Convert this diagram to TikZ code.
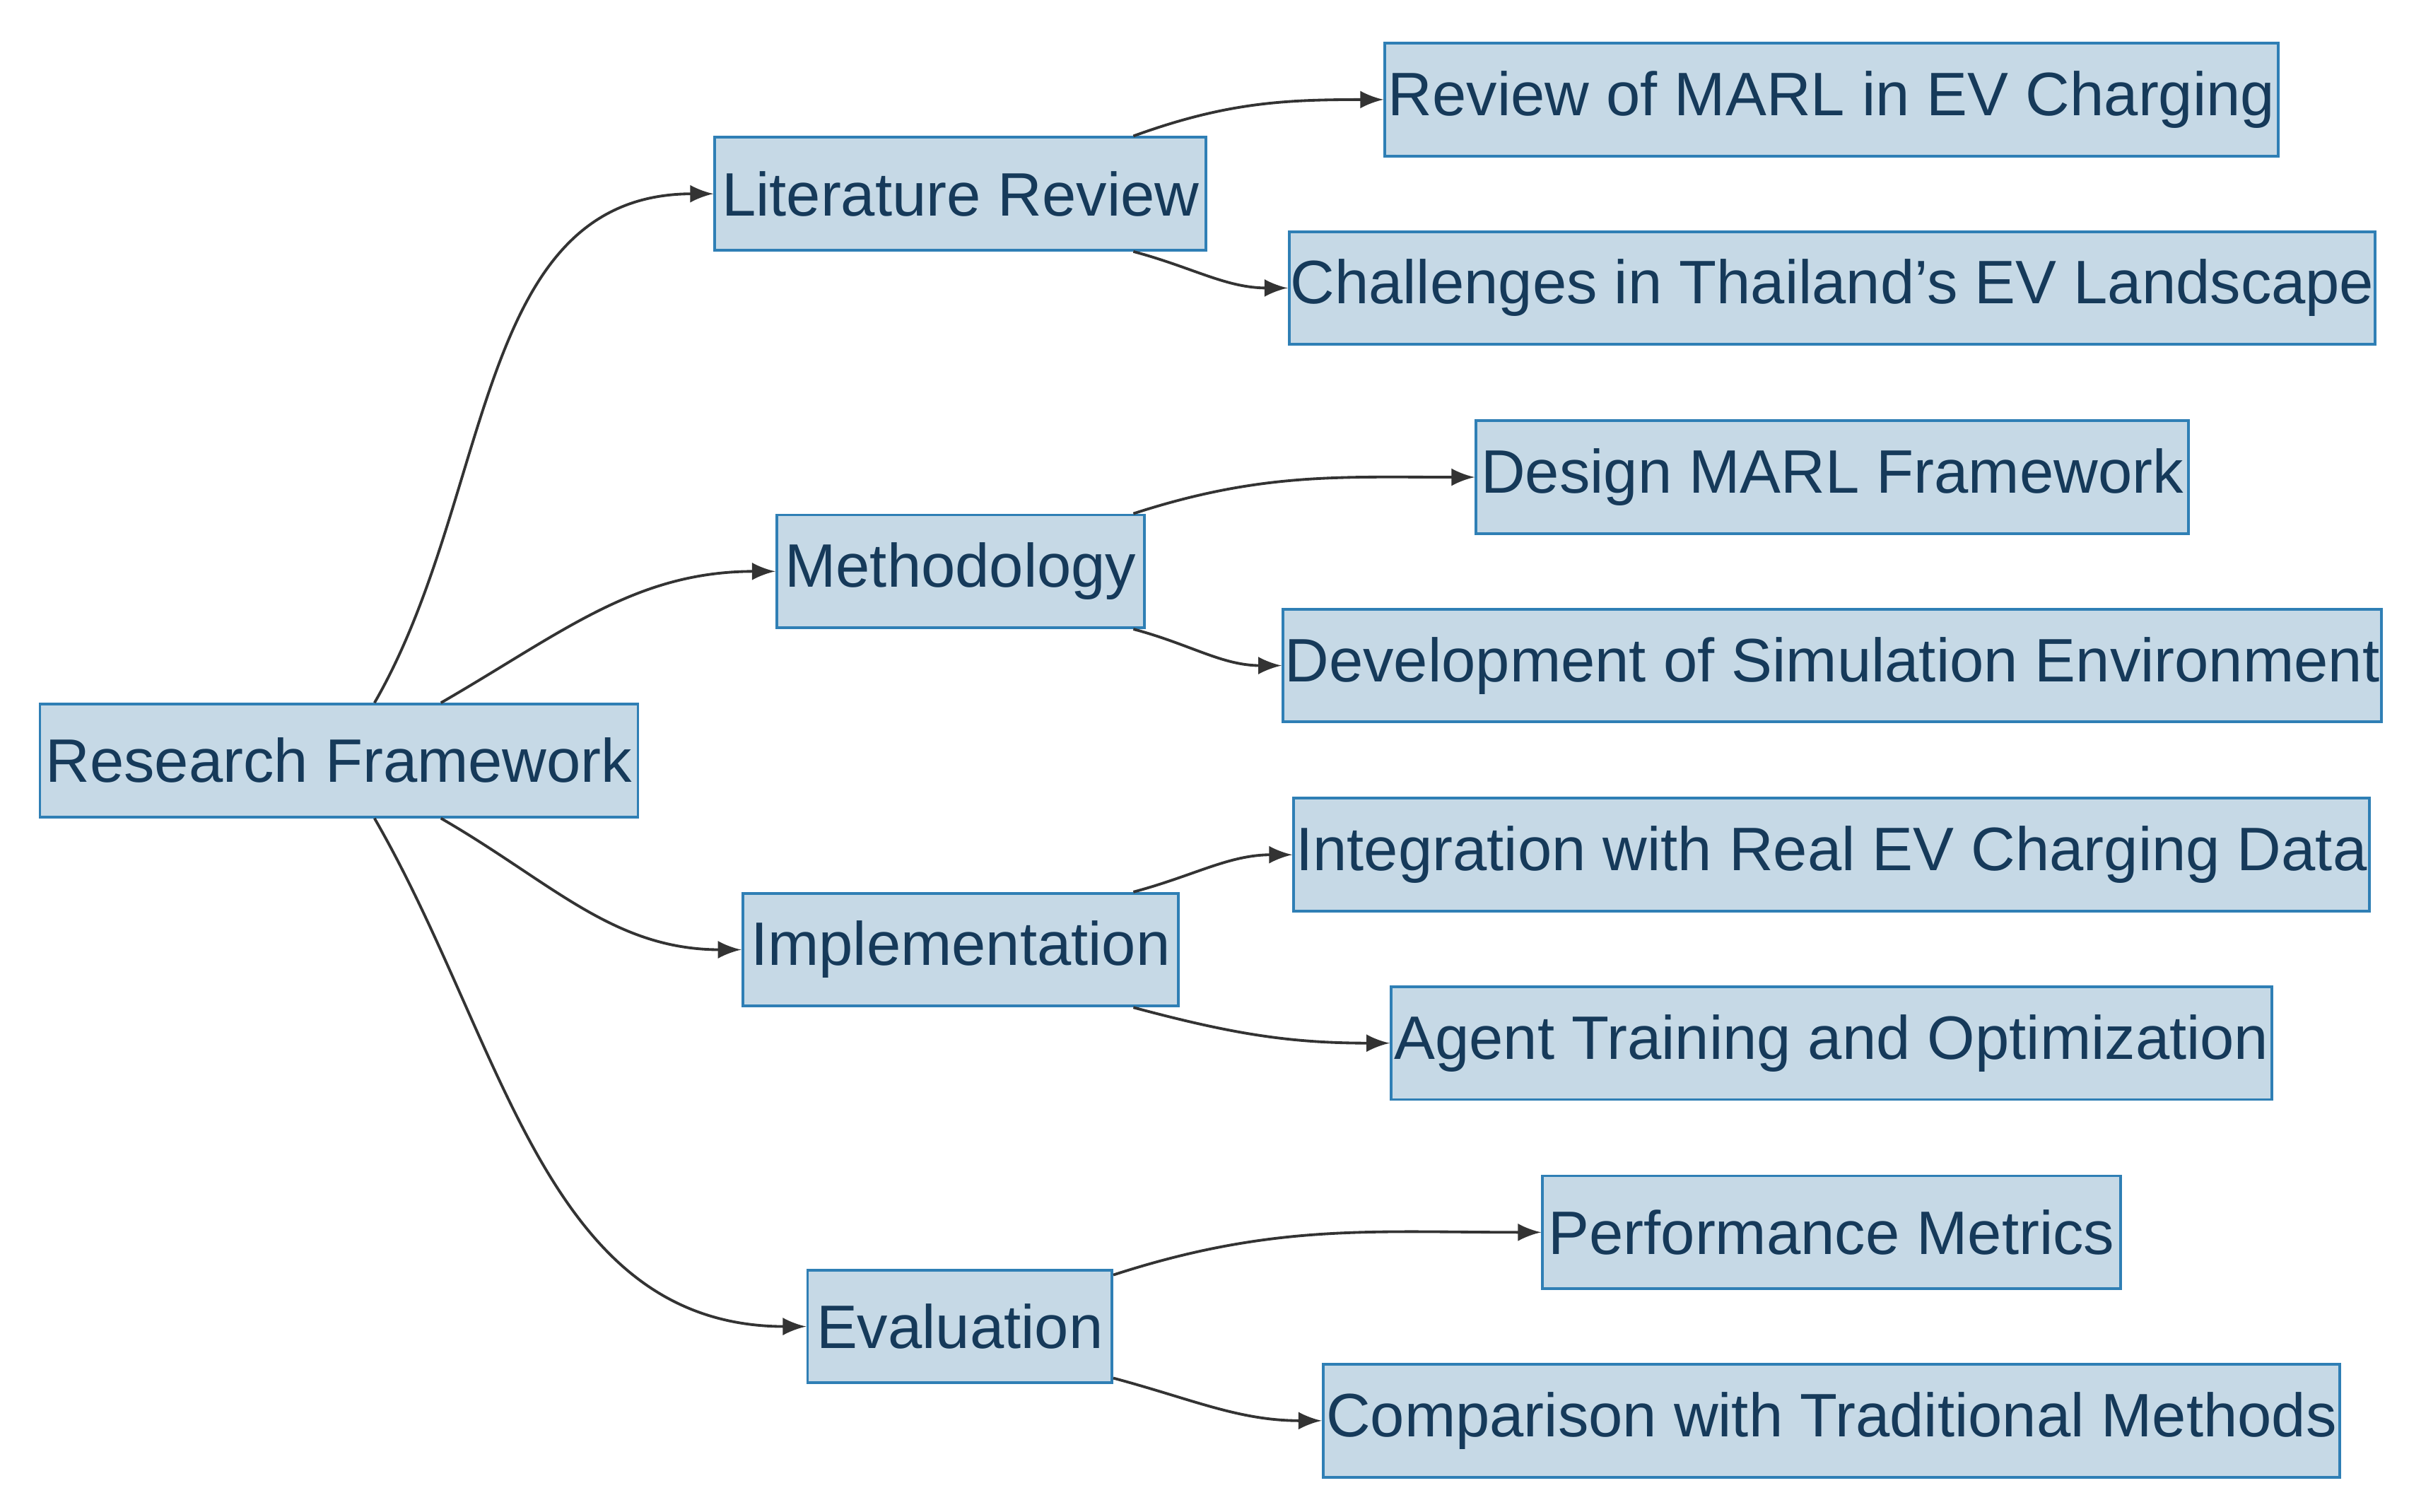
\documentclass[tikz,border=0pt]{standalone}
\usepackage{fontspec}
\setmainfont{Liberation Sans}
\usetikzlibrary{calc}
\definecolor{boxfill}{HTML}{C6D9E6}
\definecolor{boxline}{HTML}{2F7FB5}
\definecolor{boxtext}{HTML}{163A5A}
\definecolor{edgecol}{HTML}{333333}
\begin{document}
\begin{tikzpicture}[x=0.01cm,y=-0.01cm,->,>=latex,draw=edgecol,line width=0.5pt]
    \tikzstyle{stage}=[draw=boxline,fill=boxfill,text=boxtext,font=\fontsize{11.3}{13}\selectfont,minimum height=0.73cm,inner sep=0pt,anchor=center]
    \useasboundingbox (0,0) rectangle (1560,979);

    \node[stage,minimum width=3.87cm] (root) at (219.5,492.5) {Research Framework};

    \node[stage,minimum width=3.18cm] (lit) at (622,125.5) {Literature Review};
    \node[stage,minimum width=2.38cm] (meth) at (622,370) {Methodology};
    \node[stage,minimum width=2.82cm] (impl) at (622,615) {Implementation};
    \node[stage,minimum width=1.97cm] (eval) at (621.5,859) {Evaluation};

    \node[stage,minimum width=5.78cm] (L-1) at (1186,64.5) {Review of MARL in EV Charging};
    \node[stage,minimum width=7.03cm] (L-2) at (1186.5,186.5) {Challenges in Thailand's EV Landscape};
    \node[stage,minimum width=4.61cm] (M-1) at (1186.5,309) {Design MARL Framework};
    \node[stage,minimum width=7.11cm] (M-2) at (1186.5,431) {Development of Simulation Environment};
    \node[stage,minimum width=6.96cm] (I-1) at (1186,553.5) {Integration with Real EV Charging Data};
    \node[stage,minimum width=5.70cm] (I-2) at (1186,675.5) {Agent Training and Optimization};
    \node[stage,minimum width=3.74cm] (E-1) at (1186,798) {Performance Metrics};
    \node[stage,minimum width=6.58cm] (E-2) at (1186,920) {Comparison with Traditional Methods};

    \draw ([xshift=0.23cm]root.north) to[out=60,in=180] (lit.west);
    \draw ([xshift=0.66cm]root.north) to[out=30,in=180] (meth.west);
    \draw ([xshift=0.66cm]root.south) to[out=-30,in=180] (impl.west);
    \draw ([xshift=0.23cm]root.south) to[out=-60,in=180] (eval.west);

    \draw ([xshift=-0.48cm]lit.north east) to[out=20,in=180] (L-1.west);
    \draw ([xshift=-0.48cm]lit.south east) to[out=-15,in=180] (L-2.west);
    \draw ([xshift=-0.08cm]meth.north east) to[out=18,in=180] (M-1.west);
    \draw ([xshift=-0.08cm]meth.south east) to[out=-15,in=180] (M-2.west);
    \draw ([xshift=-0.30cm]impl.north east) to[out=15,in=180] (I-1.west);
    \draw ([xshift=-0.30cm]impl.south east) to[out=-15,in=180] (I-2.west);
    \draw ([yshift=-0.04cm]eval.north east) to[out=18,in=180] (E-1.west);
    \draw ([yshift=0.04cm]eval.south east) to[out=-15,in=180] (E-2.west);
  \end{tikzpicture}
\end{document}
